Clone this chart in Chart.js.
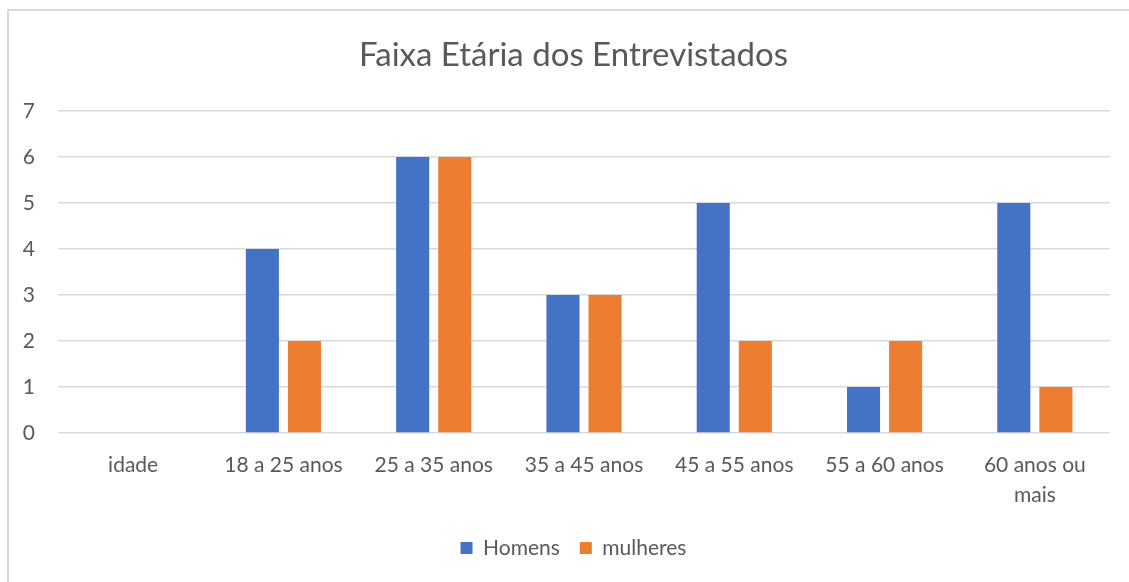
<!DOCTYPE html>
<html>
<head>
<meta charset="utf-8">
<script src="https://cdn.jsdelivr.net/npm/chart.js@4/dist/chart.umd.min.js"></script>
<style>
  body { margin: 0; background: #fff; }
  #frame {
    position: absolute; left: 7px; top: 9px;
    width: 1200px; height: 700px;
    border: 2px solid #d9d9d9;
  }
  #chart { position: absolute; left: 0; top: 0; }
</style>
</head>
<body>
<div id="frame"></div>
<canvas id="chart" width="1129" height="582"></canvas>
<script>
var faixas = ['idade', '18 a 25 anos', '25 a 35 anos', '35 a 45 anos', '45 a 55 anos', '55 a 60 anos', ['60 anos ou', 'mais']];
var homens = [0, 4, 6, 3, 5, 1, 5];
var mulheres = [0, 2, 6, 3, 2, 2, 1];
var yTicks = [0, 1, 2, 3, 4, 5, 6, 7];

var fonte = 'Lato, "Liberation Sans", sans-serif';
var cinza = '#595959';

// the y axis sits partly inside the left padding; stretch its box back to the
// canvas edge so its labels are not clipped away
var eixoLargo = {
    id: 'eixoLargo',
    afterLayout: function (chart) {
        chart.scales.y.left = 0;
    }
};

new Chart(document.getElementById('chart'), {
    type: 'bar',
    data: {
        labels: faixas,
        datasets: [
            {
                label: 'Homens',
                data: homens,
                backgroundColor: '#4472C4',
                categoryPercentage: 0.56,
                barPercentage: 0.786
            },
            {
                label: 'mulheres',
                data: mulheres,
                backgroundColor: '#ED7D31',
                categoryPercentage: 0.56,
                barPercentage: 0.786
            }
        ]
    },
    plugins: [eixoLargo],
    options: {
        responsive: false,
        animation: false,
        // left padding keeps title and legend centred on the frame
        layout: {
            padding: { top: 0, right: 19, bottom: 13.5, left: 37 }
        },
        plugins: {
            title: {
                display: true,
                text: 'Faixa Etária dos Entrevistados',
                color: cinza,
                font: { family: fonte, size: 33, weight: 'normal', lineHeight: 1.2 },
                padding: { top: 36, bottom: 35.4 }
            },
            legend: {
                position: 'bottom',
                labels: {
                    color: cinza,
                    font: { family: fonte, size: 21 },
                    boxWidth: 12,
                    boxHeight: 12,
                    padding: 20
                }
            },
            tooltip: { enabled: false }
        },
        scales: {
            x: {
                grid: { display: false, drawTicks: false },
                border: { display: false },
                ticks: {
                    color: cinza,
                    font: { family: fonte, size: 21, lineHeight: 1.43 },
                    padding: 17,
                    maxRotation: 0
                },
                afterFit: function (scale) { scale.height = 84.5; }
            },
            y: {
                min: 0,
                max: yTicks[yTicks.length - 1],
                grid: { color: '#d9d9d9', lineWidth: 1.5, drawTicks: false },
                border: { display: false },
                ticks: {
                    stepSize: 1,
                    color: cinza,
                    font: { family: fonte, size: 21 },
                    padding: 23
                },
                afterBuildTicks: function (scale) {
                    scale.ticks = yTicks.map(function (v) { return { value: v }; });
                },
                afterFit: function (scale) { scale.width = 21; }
            }
        }
    }
});
</script>
</body>
</html>
